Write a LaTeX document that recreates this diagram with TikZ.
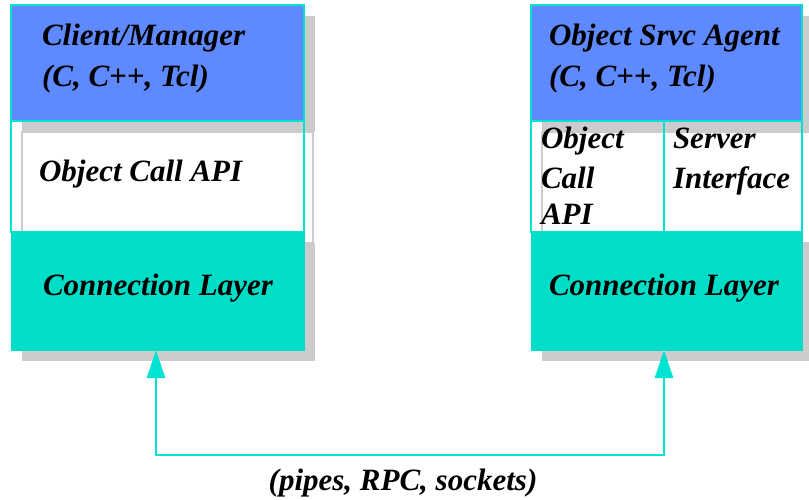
\documentclass[tikz,border=0pt]{standalone}
\usepackage{fontspec}
\setmainfont{Liberation Serif}
\usetikzlibrary{arrows.meta}
\definecolor{agentblue}{HTML}{5F8AFF}
\definecolor{layerteal}{HTML}{00DEC8}
\definecolor{rimteal}{HTML}{00E2D2}
\definecolor{shade}{HTML}{CCCCCC}
\tikzset{
  lbl/.style={anchor=base west, inner sep=0pt, outer sep=0pt,
    font=\fontsize{31}{40}\selectfont\bfseries\itshape},
  box/.style={anchor=north west, inner sep=0pt, outer sep=0pt},
  shadowbox/.style={box, fill=shade},
  apibox/.style={box, draw=rimteal, line width=2.5pt},
  apishadow/.style={box, fill=white, draw=shade, line width=2pt},
  topbox/.style={box, fill=agentblue, draw=rimteal, line width=2.5pt},
  connbox/.style={box, fill=layerteal, draw=layerteal, line width=1pt},
  link/.style={draw=rimteal, line width=2.5pt,
    {Triangle[length=28pt,width=18pt]}-{Triangle[length=28pt,width=18pt]}}
}
\begin{document}
\begin{tikzpicture}[x=1pt,y=-1pt]
\useasboundingbox (0,0) rectangle (809,499);
\clip (0,0) rectangle (809,499);

% ---- client stack ----
\node[shadowbox, minimum width=293, minimum height=116] (ltopsh) at (22,16) {};
\node[topbox, minimum width=293, minimum height=116] (ltop) at (11,5) {};
\node[apishadow, minimum width=291, minimum height=111] (lapish) at (22,132) {};
\node[apibox, minimum width=293, minimum height=111] (lapi) at (11,121) {};
\node[shadowbox, minimum width=293, minimum height=118] (lconnsh) at (22,243) {};
\node[connbox, minimum width=293, minimum height=118] (lconn) at (11,232) {};

\node[lbl] (lt1) at (42,45) {Client/Manager};
\node[lbl] (lt2) at (42,86) {(C, C++, Tcl)};
\node[lbl] (lapit) at (39,181) {Object Call API};
\node[lbl] (lconnt) at (43,295) {Connection Layer};

% ---- agent stack ----
\node[shadowbox, minimum width=271, minimum height=116] (rtopsh) at (542,16) {};
\node[topbox, minimum width=271, minimum height=116] (rtop) at (531,5) {};
\node[apishadow, minimum width=271, minimum height=111] (rapish) at (542,132) {};
\node[apibox, minimum width=133, minimum height=111] (rapi) at (531,121) {};
\node[apibox, minimum width=138, minimum height=111] (rsrv) at (664,121) {};
\node[shadowbox, minimum width=271, minimum height=118] (rconnsh) at (542,243) {};
\node[connbox, minimum width=271, minimum height=118] (rconn) at (531,232) {};

\node[lbl] (rt1) at (549,45) {Object Srvc Agent};
\node[lbl] (rt2) at (549,86) {(C, C++, Tcl)};
\node[lbl] (rapi1) at (541,148) {Object};
\node[lbl] (rapi2) at (541,188) {Call};
\node[lbl] (rapi3) at (541,224) {API};
\node[lbl] (rsrv1) at (673,148) {Server};
\node[lbl] (rsrv2) at (673,188) {Interface};
\node[lbl] (rconnt) at (549,295) {Connection Layer};

% ---- link between the connection layers ----
\coordinate (ltip) at (lconn.south -| 156,0);
\coordinate (rtip) at (rconn.south -| 664,0);
\draw[link] (ltip) -- ++(0,105) -| (rtip);
\node[lbl, anchor=base] (via) at (403,490) {(pipes, RPC, sockets)};
\end{tikzpicture}
\end{document}
